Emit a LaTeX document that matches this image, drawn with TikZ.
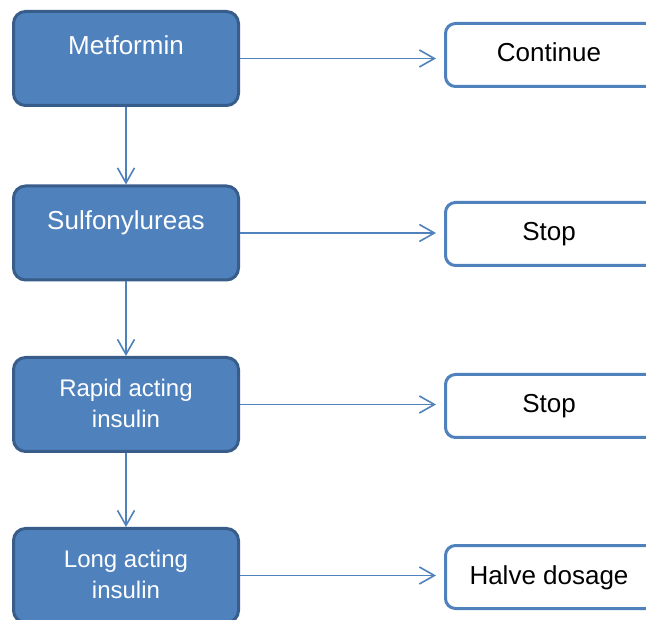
\documentclass[tikz,border=0pt]{standalone}
\usepackage{fontspec}
\setmainfont{Liberation Sans}
\usetikzlibrary{arrows.meta}
\definecolor{boxfill}{HTML}{4F81BD}
\definecolor{boxedge}{HTML}{385D8A}
\definecolor{arrowc}{HTML}{4F81BD}
\begin{document}
\begin{tikzpicture}[x=1pt,y=1pt,
  drugbox/.style={draw=boxedge, fill=boxfill, line width=3pt, rounded corners=12pt,
    minimum width=225pt, minimum height=94pt, inner sep=0pt},
  actbox/.style={draw=boxfill, fill=white, line width=3pt, rounded corners=10pt,
    minimum width=253pt, minimum height=63pt, inner sep=0pt},
  bigtxt/.style={font=\fontsize{26}{31}\selectfont, inner sep=0pt, anchor=base},
  smalltxt/.style={font=\fontsize{24}{31}\selectfont, inner sep=0pt, anchor=base},
  conn/.style={draw=arrowc, line width=1.6pt, -{Straight Barb[length=15pt,width=17pt,line width=1.6pt]}}
]
\clip (0,0) rectangle (646,-620);
\fill[white] (0,0) rectangle (646,-620);

% left boxes
\node[drugbox] (m) at (126,-58.5) {};
\node[drugbox] (s) at (126,-233) {};
\node[drugbox] (r) at (126,-404.5) {};
\node[drugbox] (l) at (126,-575.5) {};

% right boxes
\node[actbox] (c) at (572,-55) {};
\node[actbox] (s2) at (572,-234) {};
\node[actbox] (r2) at (572,-406) {};
\node[actbox] (h) at (572,-577) {};

% texts
\node[bigtxt, text=white] (mt) at (126,-54.5) {Metformin};
\node[bigtxt, text=white] (st) at (126,-229.5) {Sulfonylureas};
\node[smalltxt, text=white] (rt1) at (126,-396.5) {Rapid acting};
\node[smalltxt, text=white] (rt2) at (126,-427.5) {insulin};
\node[smalltxt, text=white] (lt1) at (126,-567.5) {Long acting};
\node[smalltxt, text=white] (lt2) at (126,-598.5) {insulin};

\node[bigtxt] (ct) at (549,-62) {Continue};
\node[bigtxt] (s2t) at (549,-241) {Stop};
\node[bigtxt] (r2t) at (549,-413) {Stop};
\node[bigtxt] (ht) at (549,-584) {Halve dosage};

% vertical arrows
\draw[conn] (m.south) -- (s.north);
\draw[conn] (s.south) -- (r.north);
\draw[conn] (r.south) -- (l.north);

% horizontal arrows
\draw[conn, shorten >=8pt] (m.east) -- (m.east -| c.west);
\draw[conn, shorten >=8pt] (s.east) -- (s.east -| s2.west);
\draw[conn, shorten >=8pt] (r.east) -- (r.east -| r2.west);
\draw[conn, shorten >=8pt] (l.east) -- (l.east -| h.west);
\end{tikzpicture}
\end{document}
